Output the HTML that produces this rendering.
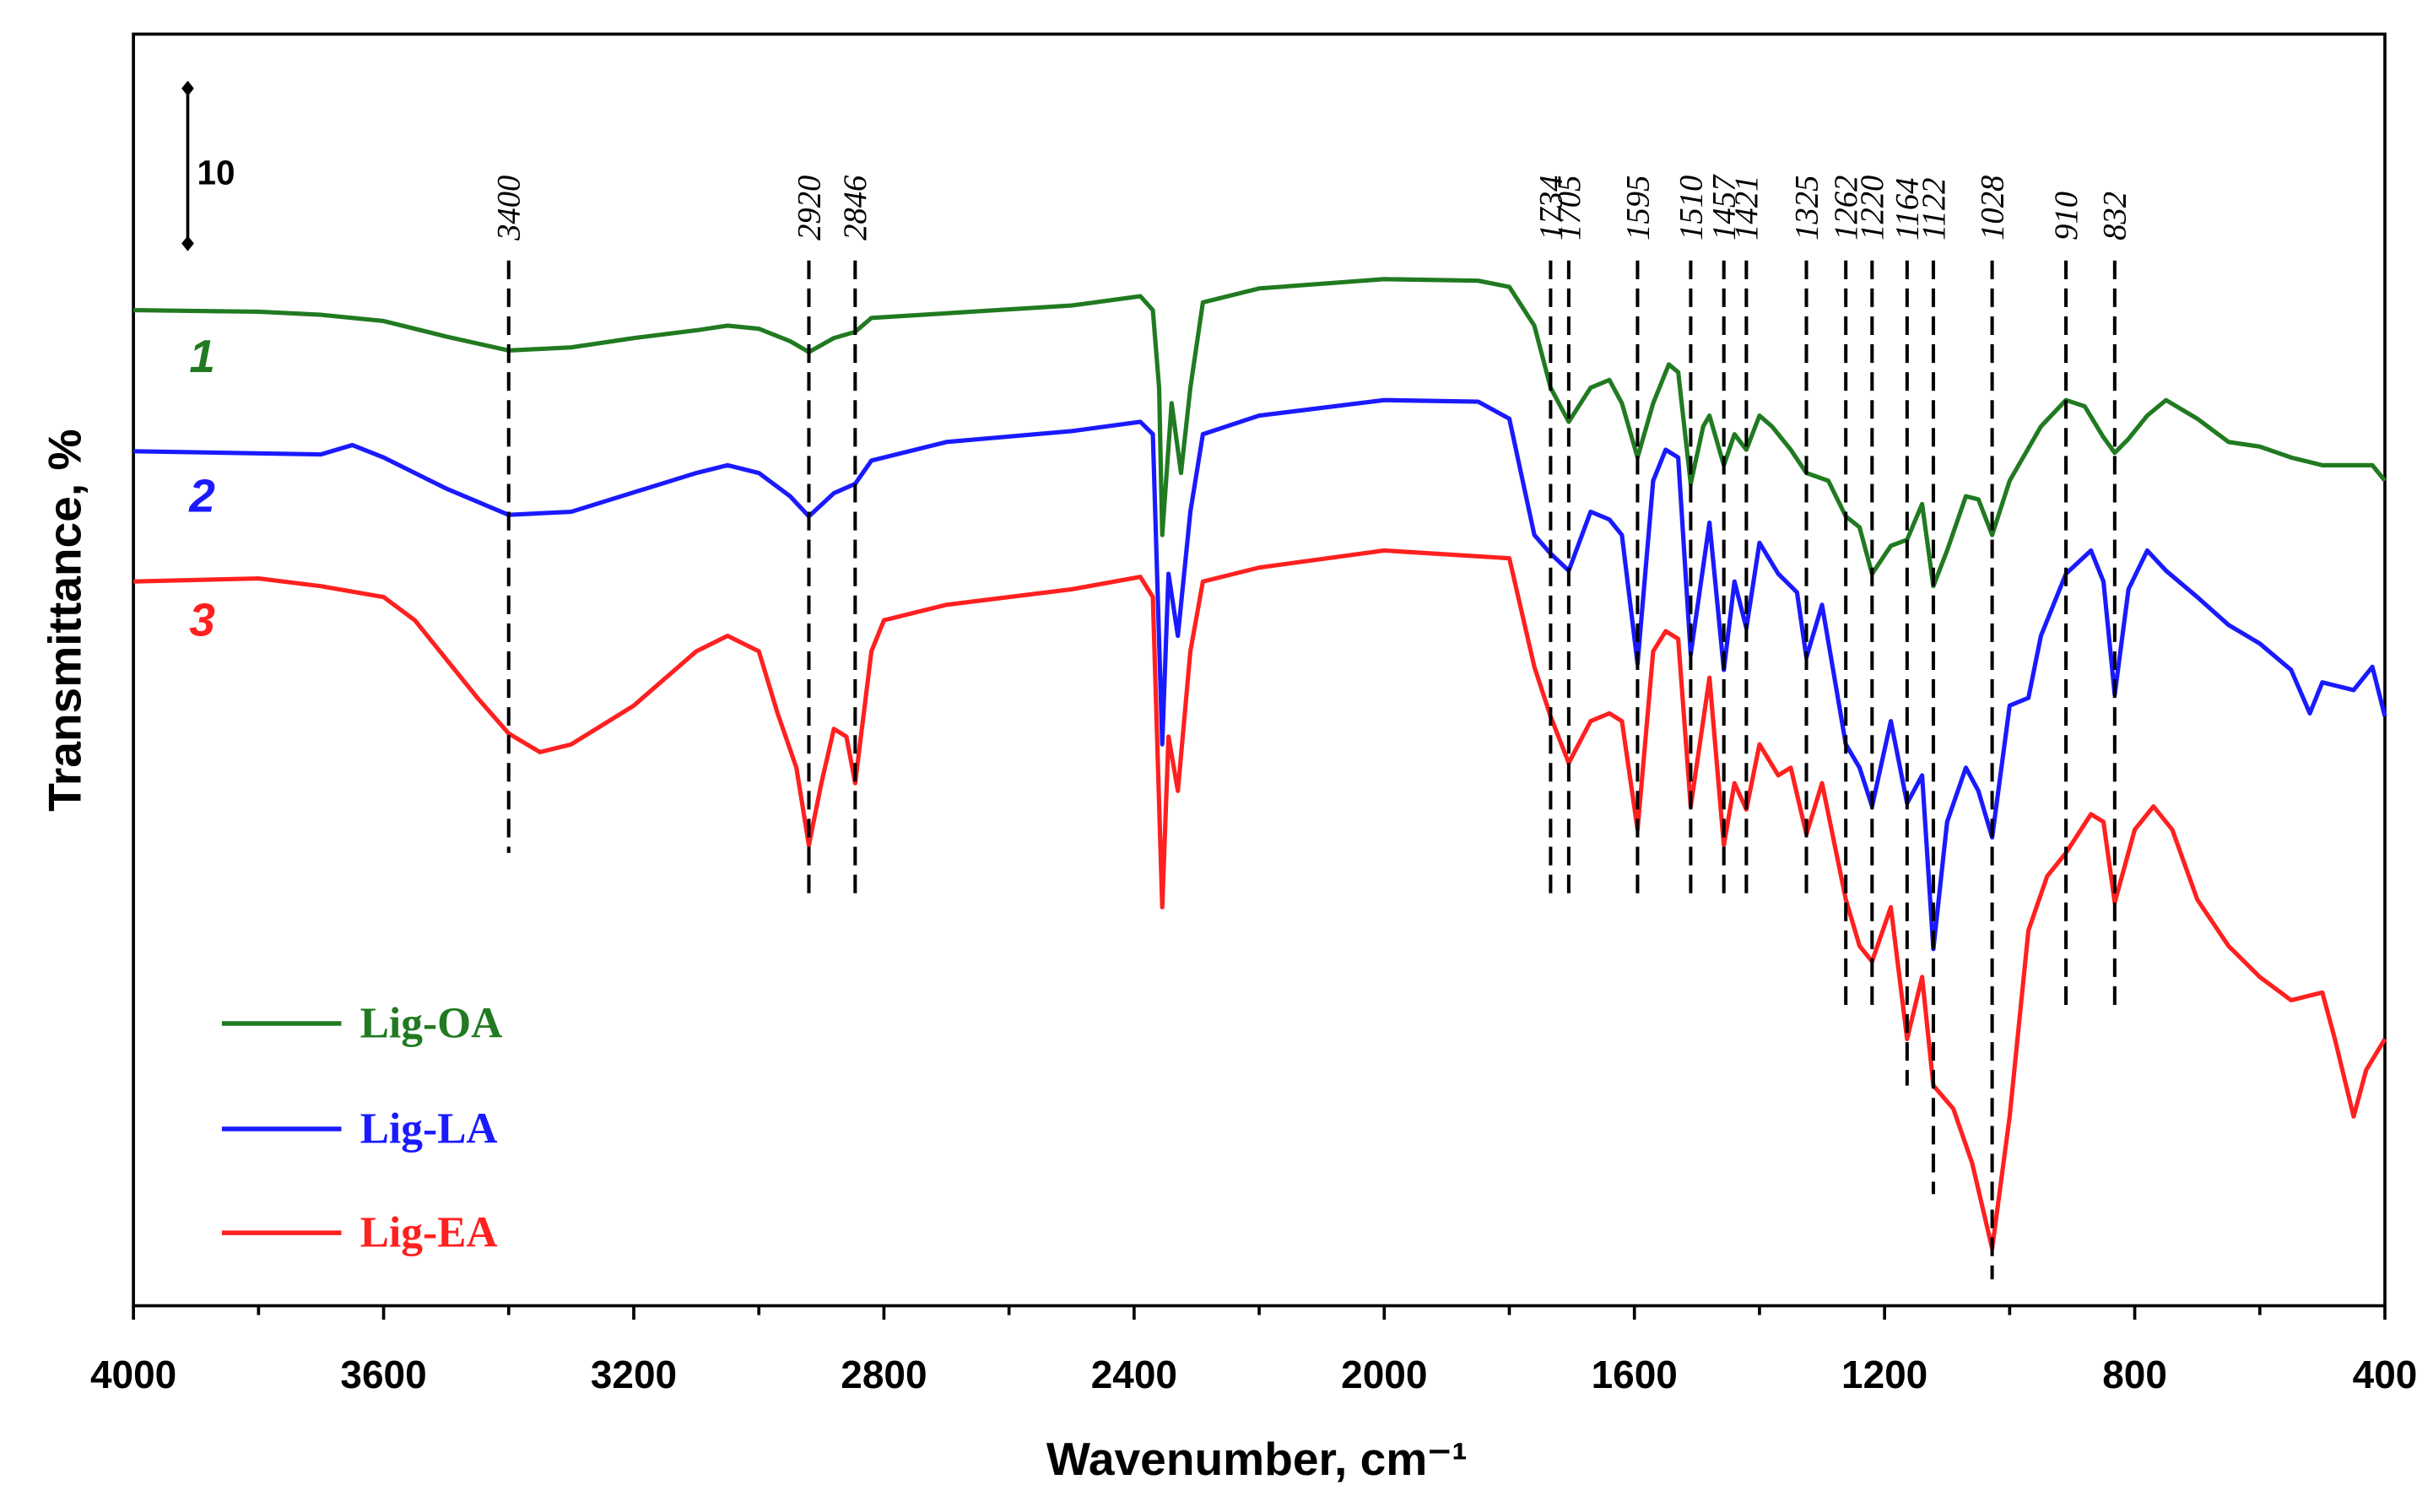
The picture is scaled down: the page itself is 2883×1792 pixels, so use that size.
<!DOCTYPE html>
<html><head><meta charset="utf-8"><style>
html,body{margin:0;padding:0;background:#fff;}
svg{display:block;}
</style></head><body>
<svg id="chart" width="2883" height="1792" viewBox="0 0 1568 975" preserveAspectRatio="none" xmlns="http://www.w3.org/2000/svg">
<g id="frame"></g>
<g id="marks"></g>
<g id="anno"></g>
</svg>
<script>
// ---- data (wavenumber cm-1 / relative transmittance units) ----
const xTicks = [4000,3600,3200,2800,2400,2000,1600,1200,800,400];
const xMinorTicks = [3800,3400,3000,2600,2200,1800,1400,1000,600];
const greenWn = [4000,3800,3700,3600,3500,3400,3300,3200,3100,3050,3000,2950,2920,2880,2846,2820,2700,2500,2390,2370,2360,2355,2340,2325,2310,2290,2200,2000,1850,1800,1760,1734,1705,1670,1640,1620,1595,1570,1545,1530,1510,1490,1480,1457,1440,1421,1400,1380,1350,1325,1290,1262,1240,1220,1190,1164,1140,1122,1100,1070,1050,1028,1000,950,910,880,850,832,810,780,750,700,650,600,550,500,450,420,400];
const greenT = [64.2,64.1,63.9,63.5,62.5,61.6,61.8,62.4,62.9,63.2,63,62.2,61.5,62.4,62.8,63.7,64,64.5,65.1,64.2,59.2,49.7,58.2,53.7,59.2,64.7,65.6,66.2,66.1,65.7,63.2,59.2,57,59.2,59.7,58.2,54.7,58.2,60.7,60.2,53,56.7,57.4,54.2,56.2,55.2,57.4,56.7,55.2,53.7,53.2,50.9,50.2,47.2,49,49.4,51.7,46.4,48.7,52.2,52,49.7,53.2,56.7,58.4,58,56,55,55.9,57.4,58.4,57.2,55.7,55.4,54.7,54.2,54.2,54.2,53.2];
const blueWn = [4000,3700,3650,3600,3500,3400,3300,3100,3050,3000,2950,2920,2880,2846,2820,2700,2500,2390,2370,2355,2345,2330,2310,2290,2200,2000,1850,1800,1760,1734,1705,1670,1640,1620,1595,1570,1550,1530,1510,1480,1457,1440,1421,1400,1370,1340,1325,1300,1262,1240,1220,1190,1164,1140,1122,1100,1070,1050,1028,1000,970,950,910,870,850,832,810,780,750,700,650,600,550,520,500,450,420,400];
const blueT = [55.1,54.9,55.5,54.7,52.7,51,51.2,53.7,54.2,53.7,52.2,50.9,52.4,53,54.5,55.7,56.4,57,56.2,36.2,47.2,43.2,51.2,56.2,57.4,58.4,58.3,57.2,49.7,48.5,47.4,51.2,50.7,49.7,41.4,53.2,55.2,54.7,42,50.5,41,46.7,43.7,49.2,47.2,46,41.8,45.2,36.2,34.7,32.2,37.7,32.4,34.2,23,31.2,34.7,33.2,30.2,38.7,39.2,43.2,47.2,48.7,46.7,39.4,46.2,48.7,47.4,45.7,43.9,42.7,41,38.2,40.2,39.7,41.2,38];
const redWn = [4000,3800,3700,3600,3550,3500,3450,3400,3350,3300,3200,3100,3050,3000,2970,2940,2920,2900,2880,2860,2846,2820,2800,2700,2500,2390,2370,2355,2345,2330,2310,2290,2200,2000,1800,1760,1734,1705,1670,1640,1620,1595,1570,1550,1530,1510,1480,1457,1440,1421,1400,1370,1350,1325,1300,1262,1240,1220,1190,1164,1140,1122,1090,1060,1028,1000,970,940,910,870,850,832,800,770,740,700,650,600,550,500,480,450,430,400];
const redT = [46.7,46.9,46.4,45.7,44.2,41.7,39.2,36.9,35.7,36.2,38.7,42.2,43.2,42.2,38.2,34.7,29.7,33.7,37.2,36.7,33.7,42.2,44.2,45.2,46.2,47,45.7,25.7,36.7,33.2,42.2,46.7,47.6,48.7,48.2,41.2,38,35,37.7,38.2,37.7,30.7,42.2,43.5,43,32.2,40.5,29.7,33.7,32,36.2,34.2,34.7,30.4,33.7,26.2,23.2,22.2,25.7,17.2,21.2,14.2,12.7,9.2,3.7,12.2,24.2,27.7,29.2,31.7,31.2,26,30.7,32.2,30.7,26.2,23.2,21.2,19.7,20.2,17.2,12.2,15.2,17.2];
const peakWn = [3400,2920,2846,1734,1705,1595,1510,1457,1421,1325,1262,1220,1164,1122,1028,910,832];
const peakLabels = ["3400","2920","2846","1734","1705","1595","1510","1457","1421","1325","1262","1220","1164","1122","1028","910","832"];
const peakBottomT = [29.2,26.5,26.5,26.5,26.5,26.5,26.5,26.5,26.5,26.5,19,19,14.2,7.2,1.7,19,19];
const legendNames = ["Lig-OA","Lig-LA","Lig-EA"];
const seriesNumbers = ["1","2","3"];

// ---- scales ----
const L=86,R=1537,T0=22,B=842;
const xs = w => L + (4000 - w) / 3600 * (R - L);
const ys = t => B - t * 10;
const NS="http://www.w3.org/2000/svg";
function mk(tag, attrs, parent){const e=document.createElementNS(NS,tag);for(const k in attrs)e.setAttribute(k,attrs[k]);parent.appendChild(e);return e;}
const frame=document.getElementById('frame'), marks=document.getElementById('marks'), anno=document.getElementById('anno');

let el = mk('rect',{x:L,y:T0,width:R-L,height:B-T0,fill:'none',stroke:'#000','stroke-width':2},frame);


xTicks.forEach((v,i)=>{
  let t=mk('line',{x1:xs(v),x2:xs(v),y1:B,y2:B+9,stroke:'#000','stroke-width':2},frame);
  
  
  let tx=mk('text',{x:xs(v),y:B+53,'text-anchor':'middle','font-family':'Liberation Sans, sans-serif','font-weight':'bold','font-size':25},frame);
  tx.textContent=v;
  
  
});
xMinorTicks.forEach(v=>{
  let t=mk('line',{x1:xs(v),x2:xs(v),y1:B,y2:B+6,stroke:'#000','stroke-width':2},frame);
  
  
});
el=mk('text',{x:810,y:951,'text-anchor':'middle','font-family':'Liberation Sans, sans-serif','font-weight':'bold','font-size':30},frame);
el.textContent='Wavenumber, cm\u207B\u00B9';


el=mk('text',{x:0,y:0,transform:'translate(52,400) rotate(-90)','text-anchor':'middle','font-family':'Liberation Sans, sans-serif','font-weight':'bold','font-size':30},frame);
el.textContent='Transmittance, %';



// scale bar
el=mk('line',{x1:121,x2:121,y1:57,y2:157,stroke:'#000','stroke-width':2},anno);


[57,157].forEach(y=>{let d=mk('path',{d:`M121 ${y-5} L125 ${y} L121 ${y+5} L117 ${y} Z`,fill:'#000'},anno);

});
el=mk('text',{x:127,y:119,'font-family':'Liberation Sans, sans-serif','font-weight':'bold','font-size':22},anno);
el.textContent='10';



// peak lines
peakWn.forEach((w,i)=>{
  let d=mk('line',{x1:xs(w),x2:xs(w),y1:168,y2:ys(peakBottomT[i]),stroke:'#000','stroke-width':2.2,'stroke-dasharray':'12,6'},anno);
  
  
  let t=mk('text',{x:0,y:0,transform:`translate(${xs(w)+7},155) rotate(-90)`,'font-family':'Liberation Serif, serif','font-style':'italic','font-size':21},anno);
  t.textContent=peakLabels[i];
  
  
});

const colors=['#217a21','#1a1aff','#ff2020'];
const series=[[greenWn,greenT],[blueWn,blueT],[redWn,redT]];
series.forEach((s,k)=>{
  const d=s[0].map((w,i)=>(i?'L':'M')+xs(w).toFixed(2)+' '+ys(s[1][i]).toFixed(2)).join(' ');
  let p=mk('path',{d:d,fill:'none',stroke:colors[k],'stroke-width':2.8,'stroke-linejoin':'round'},marks);
  
  
});
const numY=[240,330,410];
seriesNumbers.forEach((n,k)=>{
  let t=mk('text',{x:122,y:numY[k],'font-family':'Liberation Sans, sans-serif','font-weight':'bold','font-style':'italic','font-size':30,fill:colors[k]},anno);
  t.textContent=n;
  
  
});
const legY=[660,728,795];
legendNames.forEach((n,k)=>{
  let l=mk('line',{x1:143,x2:220,y1:legY[k],y2:legY[k],stroke:colors[k],'stroke-width':3},anno);
  
  
  let t=mk('text',{x:232,y:legY[k]+9,'font-family':'Liberation Serif, serif','font-weight':'bold','font-size':28,fill:colors[k]},anno);
  t.textContent=n;
  
  
});
</script>
</body></html>
